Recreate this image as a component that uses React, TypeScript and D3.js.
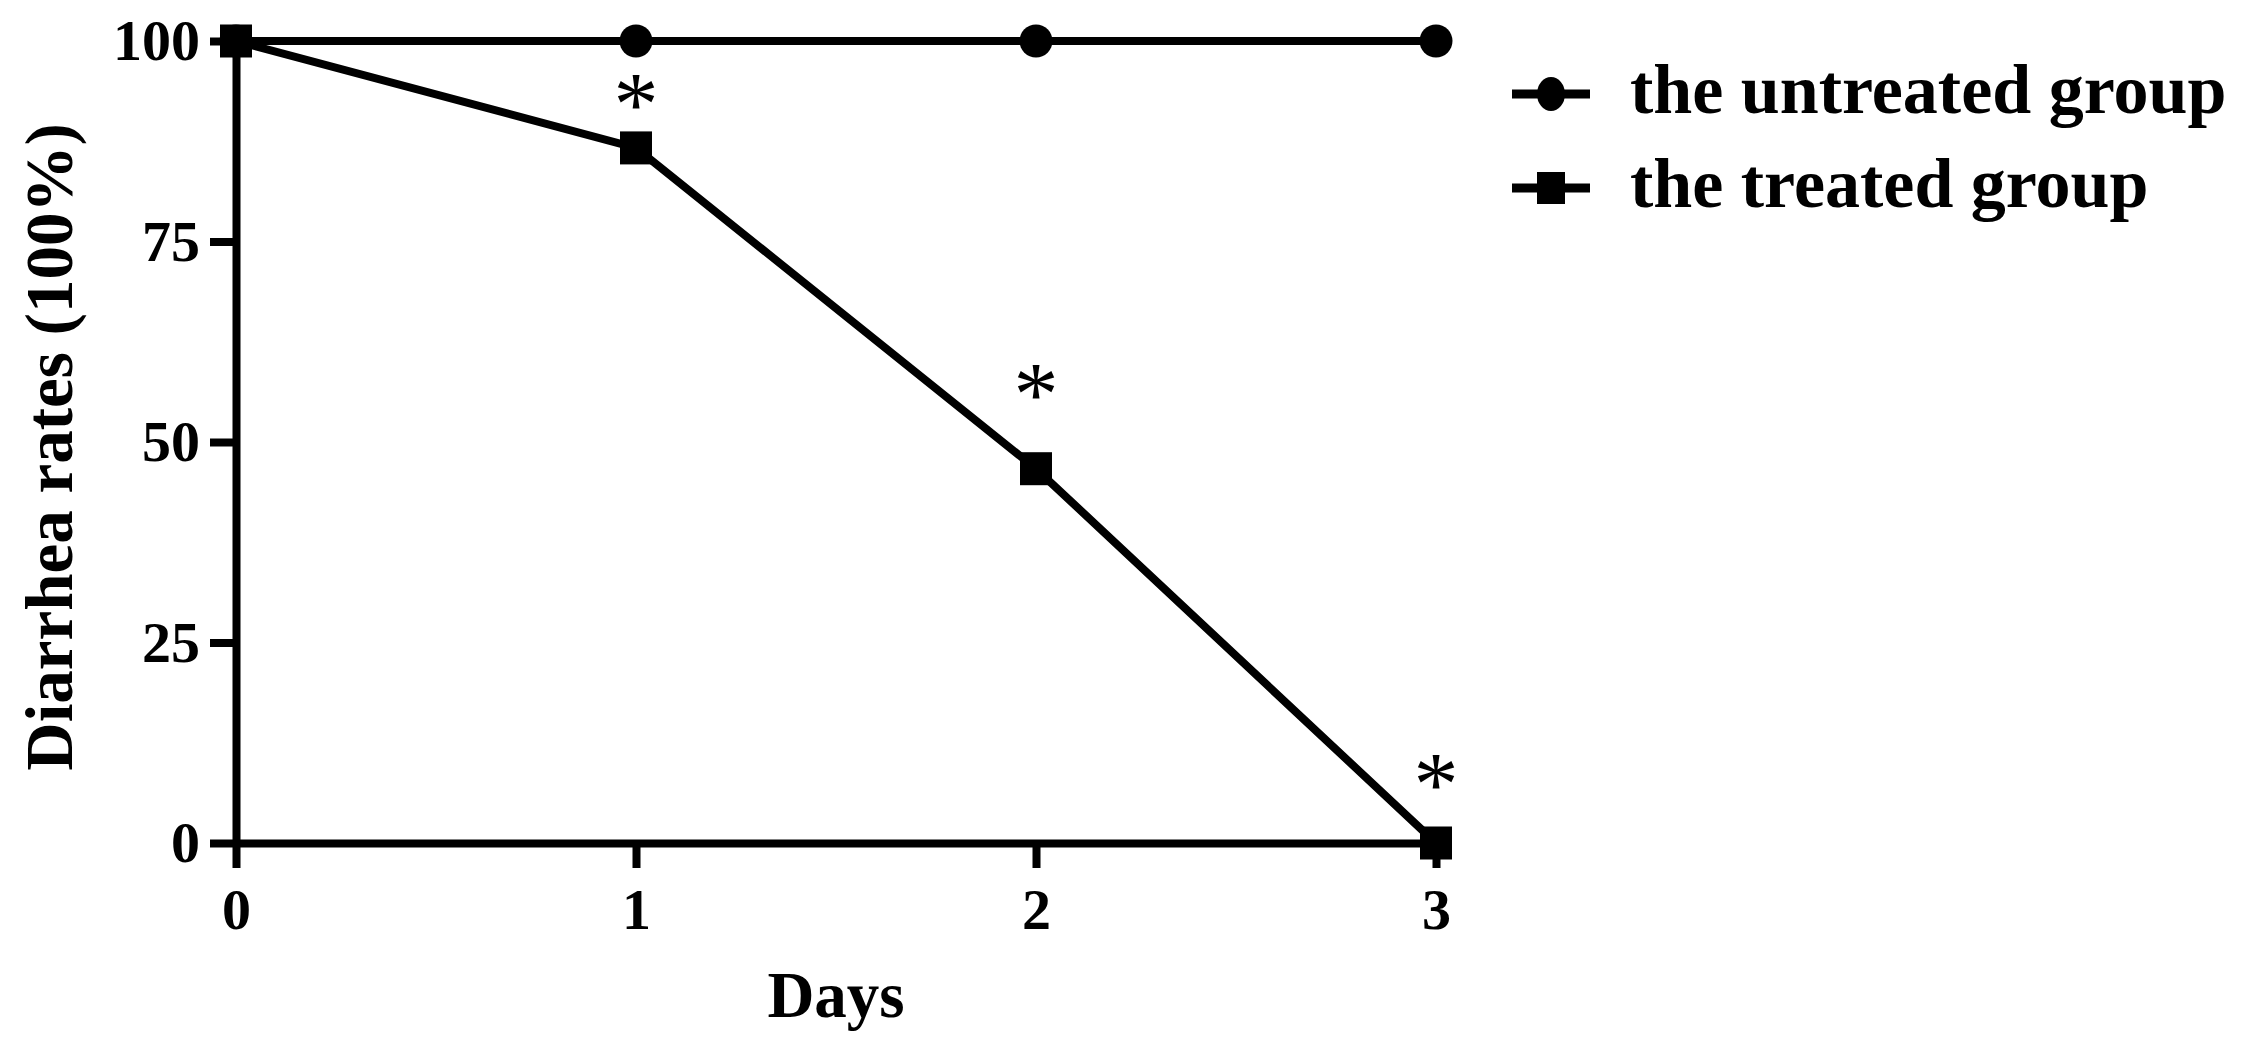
import React, { useEffect, useRef } from "react";
import * as d3 from "d3";

// values
const days = [0, 1, 2, 3];
const untreated = [100, 100, 100, 100];
const treated = [100, 86.67, 46.67, 0];
const starDays = [1, 2, 3];
const starLevels = [93.3, 57.1, 8.5];
const yTicks = [0, 25, 50, 75, 100];
const seriesNames = ["the untreated group", "the treated group"];

const width = 2247;
const height = 1046;
const marginTop = 41;
const marginRight = 811;
const marginBottom = 203;
const marginLeft = 236;
const font = "'Liberation Serif', 'Times New Roman', serif";

function App() {
  const ref = useRef<SVGSVGElement | null>(null);

  useEffect(() => {
    const svg = d3.select(ref.current);
    svg.selectAll("*").remove();

    const x = d3.scaleLinear([0, 3], [marginLeft, width - marginRight]);
    const y = d3.scaleLinear([0, 100], [height - marginBottom, marginTop]);

    const line = d3.line<number>()
      .x((d, i) => x(days[i]))
      .y(d => y(d));

    // axes
    const xAxis = svg.append("g")
      .attr("transform", `translate(0,${height - marginBottom})`)
      .call(d3.axisBottom(x).tickValues(days).tickFormat(d3.format("d")).tickSize(25).tickSizeOuter(0).tickPadding(20));

    const yAxis = svg.append("g")
      .attr("transform", `translate(${marginLeft},0)`)
      .call(d3.axisLeft(y).tickValues(yTicks).tickSize(26).tickSizeOuter(0).tickPadding(10));

    [xAxis, yAxis].forEach(ax => {
      ax.selectAll("path, line").attr("stroke", "#000").attr("stroke-width", 8);
      ax.selectAll("text")
        .attr("fill", "#000")
        .attr("font-family", font)
        .attr("font-weight", "bold")
        .attr("font-size", 58);
    });

    // series lines
    [untreated, treated].forEach(s => {
      svg.append("path")
        .attr("fill", "none")
        .attr("stroke", "#000")
        .attr("stroke-width", 8)
        .attr("d", line(s));
    });

    svg.selectAll(".dot")
      .data(untreated)
      .enter()
      .append("circle")
      .attr("cx", (d, i) => x(days[i]))
      .attr("cy", d => y(d))
      .attr("r", 16.5)
      .attr("fill", "#000");

    svg.selectAll(".sq")
      .data(treated)
      .enter()
      .append("rect")
      .attr("x", (d, i) => x(days[i]) - 16)
      .attr("y", d => y(d) - 16.5)
      .attr("width", 32)
      .attr("height", 33)
      .attr("fill", "#000");

    // significance stars
    svg.selectAll(".star")
      .data(starLevels)
      .enter()
      .append("text")
      .attr("x", (d, i) => x(starDays[i]))
      .attr("y", d => y(d) + 40)
      .attr("text-anchor", "middle")
      .attr("font-family", font)
      .attr("font-size", 90)
      .attr("fill", "#000")
      .text("*");

    // axis titles
    svg.append("text")
      .attr("transform", "rotate(-90)")
      .attr("x", -447)
      .attr("y", 72)
      .attr("text-anchor", "middle")
      .attr("font-family", font)
      .attr("font-weight", "bold")
      .attr("font-size", 67)
      .attr("fill", "#000")
      .text("Diarrhea rates (100%)");

    svg.append("text")
      .attr("x", (x(0) + x(3)) / 2)
      .attr("y", 1017)
      .attr("text-anchor", "middle")
      .attr("font-family", font)
      .attr("font-weight", "bold")
      .attr("font-size", 65)
      .attr("fill", "#000")
      .text("Days");

    // legend
    const legend = svg.append("g").attr("transform", "translate(1512,0)");
    const rowY = [94, 188];
    seriesNames.forEach((name, i) => {
      legend.append("line")
        .attr("x1", 0).attr("x2", 78)
        .attr("y1", rowY[i]).attr("y2", rowY[i])
        .attr("stroke", "#000")
        .attr("stroke-width", 9);
      if (i === 0) {
        legend.append("ellipse")
          .attr("cx", 39).attr("cy", rowY[i])
          .attr("rx", 14).attr("ry", 17)
          .attr("fill", "#000");
      } else {
        legend.append("rect")
          .attr("x", 25).attr("y", rowY[i] - 16)
          .attr("width", 28).attr("height", 32)
          .attr("fill", "#000");
      }
      legend.append("text")
        .attr("x", 118)
        .attr("y", rowY[i] + 19)
        .attr("font-family", font)
        .attr("font-weight", "bold")
        .attr("font-size", 70)
        .attr("fill", "#000")
        .text(name);
    });
  }, []);

  return (
    <svg
      ref={ref}
      width={width}
      height={height}
      viewBox={`0 0 ${width} ${height}`}
      style={{ position: "absolute", left: 0, top: 0, background: "#fff" }}
    />
  );
}

export default App;
